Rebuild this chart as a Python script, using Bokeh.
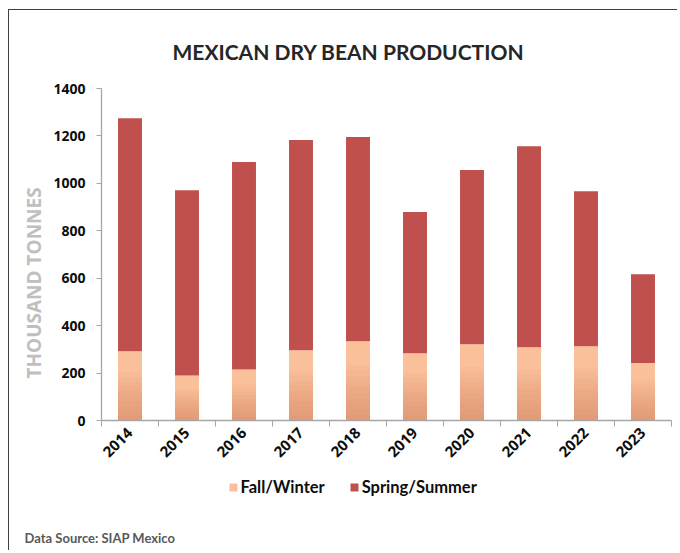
from math import pi
from bokeh.plotting import figure
from bokeh.layouts import column
from bokeh.models import Range1d, FixedTicker, Legend, LegendItem, Title
from bokeh.embed import file_html
from bokeh.resources import INLINE

# ---- data (thousand tonnes) ----
years = ["2014", "2015", "2016", "2017", "2018", "2019", "2020", "2021", "2022", "2023"]
fall_winter = [292, 190, 215, 296, 334, 284, 322, 309, 313, 242]
spring_summer = [983, 781, 875, 887, 861, 595, 734, 848, 654, 375]
y_ticks = [0, 200, 400, 600, 800, 1000, 1200, 1400]

FW_COLOR = "#FAC09A"
SS_COLOR = "#C0504D"

x = list(range(len(years)))
totals = [f + s for f, s in zip(fall_winter, spring_summer)]
BAR_W = 0.42

p = figure(frame_width=570, frame_height=332,
           x_range=Range1d(-0.5, len(years) - 0.5), y_range=Range1d(0, 1400),
           output_backend="svg", toolbar_location=None,
           min_border_left=92, min_border_right=6, min_border_top=78, min_border_bottom=50)
p.xgrid.visible = False
p.ygrid.visible = False
p.outline_line_color = None

# Fall/Winter bars with a vertical gradient (lighter at top, darker at bottom)
p.vbar(x=x, bottom=0, top=fall_winter, width=BAR_W, fill_color=FW_COLOR, line_color=None)
for k in range(1, 11):
    f = 0.07 * k
    p.vbar(x=x, bottom=0, top=[v * f for v in fall_winter], width=BAR_W,
           fill_color="#D47A59", fill_alpha=0.06, line_color=None)

p.vbar(x=x, bottom=fall_winter, top=totals, width=BAR_W, fill_color=SS_COLOR, line_color=None)

# axes
axis_gray = "#A6A6A6"
xa = p.xaxis[0]
xa.ticker = FixedTicker(ticks=x, minor_ticks=[i - 0.5 for i in range(len(years) + 1)])
xa.major_label_overrides = {i: yr for i, yr in zip(x, years)}
xa.major_label_orientation = pi / 4
xa.major_tick_line_color = None
xa.major_tick_out = 6
xa.major_tick_in = 0
xa.minor_tick_line_color = axis_gray
xa.minor_tick_out = 6
xa.minor_tick_in = 0
xa.axis_line_color = axis_gray
xa.axis_line_width = 1.3
xa.major_label_text_font = "Open Sans"
xa.major_label_text_font_style = "bold"
xa.major_label_text_font_size = "15px"
xa.major_label_text_color = "#0d0d0d"
xa.major_label_standoff = 4

ya = p.yaxis[0]
ya.ticker = FixedTicker(ticks=y_ticks)
ya.minor_tick_line_color = None
ya.major_tick_out = 5
ya.major_tick_in = 0
ya.major_tick_line_color = axis_gray
ya.axis_line_color = axis_gray
ya.axis_line_width = 1.3
ya.major_label_text_font = "Open Sans"
ya.major_label_text_font_style = "bold"
ya.major_label_text_font_size = "14px"
ya.major_label_text_color = "#0d0d0d"
ya.major_label_standoff = 11

# title
p.title = Title(text="MEXICAN DRY BEAN PRODUCTION", align="left", offset=71, standoff=50,
                text_font="Lato", text_font_style="bold", text_font_size="21px",
                text_color="#262626")

# y axis label as a left title (offset along the axis)
p.add_layout(Title(text="THOUSAND TONNES", align="left", offset=42, standoff=8,
                   text_font="Open Sans", text_font_style="bold", text_font_size="19px",
                   text_color="#BFBFBF"), "left")

# ---- footer: legend and source note ----
foot = figure(width=668, height=80, x_range=Range1d(0, 570), y_range=Range1d(0, 1),
              x_axis_type=None, y_axis_type=None,
              output_backend="svg", toolbar_location=None,
              min_border_left=0, min_border_right=0, min_border_top=0, min_border_bottom=0)
foot.grid.visible = False
foot.outline_line_color = None

# hidden copies of the two series, used only for the legend keys
fw_key = foot.vbar(x=x, top=fall_winter, width=BAR_W, fill_color=FW_COLOR, line_color=None, visible=False)
ss_key = foot.vbar(x=x, bottom=fall_winter, top=totals, width=BAR_W, fill_color=SS_COLOR,
                   line_color=None, visible=False)

legend = Legend(items=[LegendItem(label="Fall/Winter", renderers=[fw_key]),
                       LegendItem(label="Spring/Summer", renderers=[ss_key])],
                orientation="horizontal", location=(126.5, 25.5),
                glyph_width=10, glyph_height=10, label_standoff=3, spacing=24,
                label_height=20, padding=0, margin=0,
                border_line_color=None, background_fill_alpha=0,
                inactive_fill_alpha=0,
                label_text_font="Lato", label_text_font_style="bold",
                label_text_font_size="16.5px", label_text_color="#0d0d0d")
foot.add_layout(legend)

foot.add_layout(Title(text="Data Source: SIAP Mexico", align="left", offset=-77, standoff=10,
                      text_font="Lato", text_font_style="bold", text_font_size="13px",
                      text_color="#595959"), "below")

layout = column(p, foot, spacing=0,
                styles={"margin-left": "8px", "margin-top": "9px",
                        "border-left": "1.5px solid #404040", "border-top": "1.5px solid #404040"})

open("out.html", "w").write(file_html(layout, INLINE))
